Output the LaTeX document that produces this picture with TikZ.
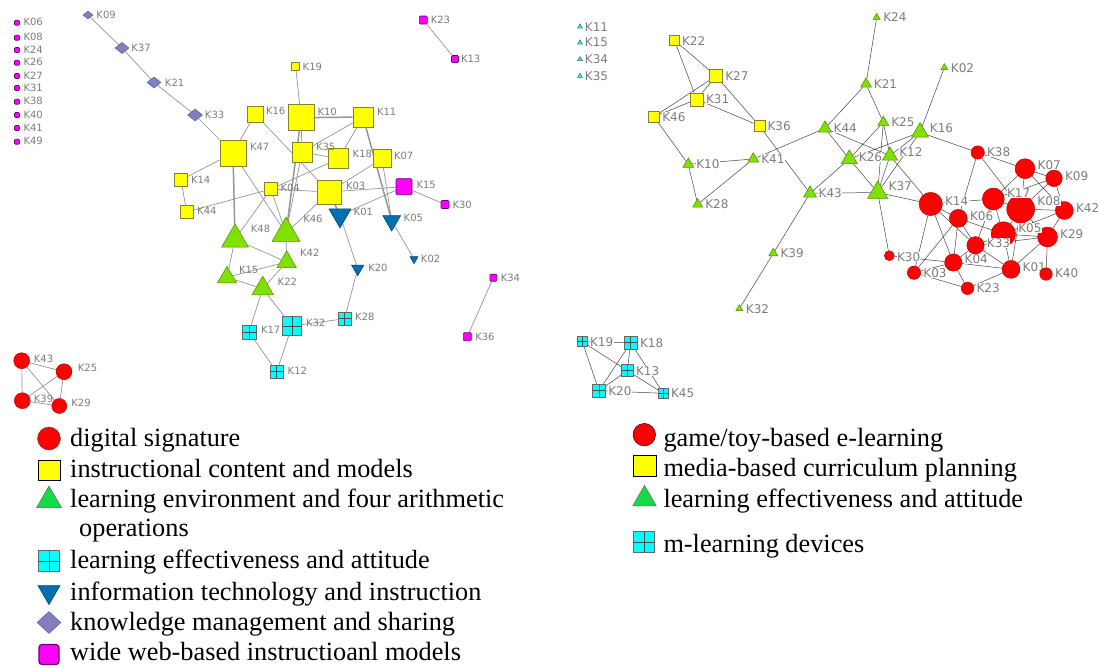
\documentclass[tikz,border=0pt]{standalone}
\usepackage{fontspec}
\setmainfont{Liberation Serif}
\newfontfamily\lblfont{DejaVu Sans}
\usetikzlibrary{shapes.geometric}
\pgfdeclarelayer{bg}
\pgfdeclarelayer{paper}
\pgfsetlayers{paper,bg,main}
\definecolor{nRed}{RGB}{255,0,0}
\definecolor{nYel}{RGB}{255,255,0}
\definecolor{nYelD}{RGB}{130,130,40}
\definecolor{nGrn}{RGB}{128,224,0}
\definecolor{nGrnD}{RGB}{80,140,0}
\definecolor{lGrn}{RGB}{20,220,70}
\definecolor{nCyn}{RGB}{0,255,255}
\definecolor{nBlu}{RGB}{0,112,176}
\definecolor{nPur}{RGB}{128,128,192}
\definecolor{nMag}{RGB}{255,0,255}
\definecolor{nMagD}{RGB}{110,0,110}
\definecolor{ceL}{RGB}{150,150,150}
\definecolor{ceR}{RGB}{70,70,70}
\definecolor{txtG}{RGB}{125,125,125}
\begin{document}
\begin{tikzpicture}[x=1pt,y=-1pt,
  ysq/.style={rectangle, fill=nYel, draw=nYelD, line width=0.6pt, minimum size=#1pt, inner sep=0pt},
  msq/.style={rectangle, rounded corners=1pt, fill=nMag, draw=nMagD, line width=0.6pt, minimum size=#1pt, inner sep=0pt},
  gtri/.style={regular polygon, regular polygon sides=3, fill=nGrn, draw=nGrnD, line width=0.5pt, minimum size={1.155*#1pt}, inner sep=0pt},
  btri/.style={regular polygon, regular polygon sides=3, shape border rotate=180, fill=nBlu, draw=nBlu!60!black, line width=0.5pt, minimum size={1.155*#1pt}, inner sep=0pt},
  dia/.style={diamond, fill=nPur, draw=nPur!75!black, line width=0.5pt, minimum width=#1pt, minimum height={0.8*#1pt}, inner sep=0pt},
  csq/.style={rectangle, fill=nCyn, draw=black!60, line width=0.6pt, minimum size=#1pt, inner sep=0pt,
    path picture={\draw[black!70, line width=0.6pt] (path picture bounding box.north) -- (path picture bounding box.south) (path picture bounding box.west) -- (path picture bounding box.east);}},
  rc/.style={circle, fill=nRed, draw=nRed!70!black, line width=0.4pt, minimum size={2*#1pt}, inner sep=0pt},
  lblL/.style={font=\lblfont\fontsize{10}{12}\selectfont, text=txtG, anchor=west, inner sep=0.5pt},
  lblR/.style={font=\lblfont\fontsize{12}{14}\selectfont, text=txtG, anchor=west, inner sep=0.3pt, fill=white},
  eL/.style={draw=ceL, line width=0.7pt},
  eLb/.style={draw=ceL, line width=1.5pt},
  eR/.style={draw=ceR, line width=0.5pt},
  legtxt/.style={font=\fontsize{26.3}{30}\selectfont, anchor=base west, inner sep=0pt}
]
\useasboundingbox (0,0) rectangle (1098,667);
\begin{pgfonlayer}{paper}
\fill[white] (0,0) rectangle (1098,667);
\end{pgfonlayer}

% ---------------- left network ----------------
\node[msq=5] (L06) at (17,22.7) {};
\node[msq=5] (L08) at (17,37.7) {};
\node[msq=5] (L24) at (17,50) {};
\node[msq=5] (L26) at (17,62.7) {};
\node[msq=5] (L27) at (17,76) {};
\node[msq=5] (L31) at (17,88) {};
\node[msq=5] (L38) at (17,101.7) {};
\node[msq=5] (L40) at (17,115) {};
\node[msq=5] (L41) at (17,128) {};
\node[msq=5] (L49) at (17,141.7) {};

\node[dia=10] (L09) at (88,15) {};
\node[dia=14] (L37) at (122,48) {};
\node[dia=14] (L21) at (154,82.5) {};
\node[dia=15] (L33) at (195,115) {};

\node[ysq=8] (L19) at (295.7,66.7) {};
\node[ysq=16] (L16) at (255,114) {};
\node[ysq=26] (L10) at (301,117.7) {};
\node[ysq=20] (L11) at (363,117) {};
\node[ysq=26] (L47) at (233,153) {};
\node[ysq=20] (L35) at (302,152) {};
\node[ysq=20] (L18) at (338.7,158.7) {};
\node[ysq=18] (L07) at (382,158.7) {};
\node[ysq=13] (L14) at (181,180) {};
\node[ysq=13] (L04) at (271,189) {};
\node[ysq=24] (L03) at (329,192) {};
\node[ysq=13] (L44) at (186.7,212) {};

\node[msq=16] (L15) at (404,186.7) {};
\node[msq=8] (L30) at (445,204.5) {};
\node[msq=8] (L23) at (423.3,20) {};
\node[msq=7] (L13) at (455,59) {};
\node[msq=7] (L34) at (493.3,277.7) {};
\node[msq=8] (L36) at (467.3,336.7) {};

\node[btri=22] (L01) at (340,215.3) {};
\node[btri=18] (L05) at (391.7,220.7) {};
\node[btri=8] (L02) at (414,259) {};
\node[btri=12.3] (L20) at (357.7,268.7) {};

\node[gtri=26.7] (L48) at (235,239.3) {};
\node[gtri=28] (L46) at (286,233.3) {};
\node[gtri=19.3] (L42) at (286.7,262) {};
\node[gtri=19] (L15g) at (227,277.3) {};
\node[gtri=21.7] (L22) at (262.7,288.7) {};

\node[csq=13] (L28) at (344.7,318.7) {};
\node[csq=19] (L32) at (292,326) {};
\node[csq=14] (L17) at (249,332) {};
\node[csq=13] (L12) at (276.7,371.7) {};

\node[rc=8] (L43) at (21.7,360.7) {};
\node[rc=8] (L25) at (64,371.7) {};
\node[rc=8] (L39) at (22.3,400.7) {};
\node[rc=7.5] (L29) at (59.3,406) {};

\begin{pgfonlayer}{bg}
\draw[eL] (L09)--(L37) (L37)--(L21) (L21)--(L33) (L33)--(L47) (L47)--(L16) (L47)--(L14) (L14)--(L44)
  (L47)--(L46) (L16)--(L03) (L19)--(L10) (L10)--(L35) (L35)--(L18) (L35)--(L46) (L11)--(L18) (L11)--(L35)
  (L07)--(L05) (L07)--(L03) (L18)--(L04) (L44)--(L04) (L04)--(L03) (L03)--(L15) (L15)--(L30) (L15)--(L01)
  (L01)--(L20) (L20)--(L28) (L28)--(L32) (L05)--(L02) (L03)--(L46) (L04)--(L48) (L04)--(L46)
  (L48)--(L42) (L48)--(L15g) (L46)--(L42) (L42)--(L15g) (L42)--(L22) (L15g)--(L22) (L22)--(L17) (L22)--(L32)
  (L17)--(L12) (L32)--(L12) (L23)--(L13) (L34)--(L36)
  (L43)--(L25) (L43)--(L39) (L43)--(L29) (L25)--(L39) (L25)--(L29) (L39)--(L29);
\draw[eLb] (L47)--(L48) (L10)--(L11) (L10)--(L46) (L11)--(L05) (L03)--(L01);
\end{pgfonlayer}

\foreach \n in {06,08,24,26,27,31,38,40,41,49}
  \node[lblL] (tL\n) at ([shift={(3,-0.5)}]L\n.east) {K\n};
\foreach \n/\t/\dx/\dy in {09/K09/2.5/0, 37/K37/1.5/0, 21/K21/3/0, 33/K33/1.5/0, 19/K19/2/0, 16/K16/2/3,
  10/K10/2.5/6, 11/K11/3/5, 47/K47/3/6, 35/K35/3/5, 18/K18/3/5, 07/K07/2/3, 14/K14/2.5/0, 04/K04/2/1,
  03/K03/4/6, 44/K44/3/1, 15/K15/3.5/2, 30/K30/2.5/0, 23/K23/2.5/0, 13/K13/1.5/0, 34/K34/3/0, 36/K36/3/0,
  01/K01/5.4/3.7, 05/K05/5/3, 02/K02/3.3/0, 20/K20/5.5/1, 48/K48/6/10, 46/K46/7/14, 42/K42/6/9,
  15g/K15/4.7/7, 22/K22/6.8/7, 28/K28/3/2, 32/K32/3.5/3.3, 17/K17/4/2, 12/K12/3.5/1,
  43/K43/3.3/2, 25/K25/5/4, 39/K39/2.7/2, 29/K29/3.7/3}
  \node[lblL] (tL\n) at ([shift={(\dx,-\dy)}]L\n.east) {\t};

% ---------------- right network ----------------
\node[gtri=5, fill=nCyn, draw=black!60] (R11) at (580,26.7) {};
\node[gtri=5, fill=nCyn, draw=black!60] (R15) at (580,42.7) {};
\node[gtri=5, fill=nCyn, draw=black!60] (R34) at (580,59.3) {};
\node[gtri=5, fill=nCyn, draw=black!60] (R35) at (580,76) {};

\node[ysq=10] (R22) at (674.3,40) {};
\node[ysq=13] (R27) at (716,76) {};
\node[ysq=13] (R31) at (696.7,99.3) {};
\node[ysq=11] (R46) at (654,116.7) {};
\node[ysq=11] (R36) at (759.3,125.7) {};

\node[gtri=11] (R10) at (688.3,164.3) {};
\node[gtri=11] (R41) at (753.3,159) {};
\node[gtri=10] (R28) at (697.7,204.3) {};
\node[gtri=7] (R24) at (876.7,17.3) {};
\node[gtri=7] (R02) at (944.3,67.7) {};
\node[gtri=11] (R21) at (866,84) {};
\node[gtri=11] (R25) at (883.3,122.3) {};
\node[gtri=13] (R44) at (825,128.3) {};
\node[gtri=17] (R16) at (920,132.3) {};
\node[gtri=16] (R26) at (849.3,159) {};
\node[gtri=15] (R12) at (890,155.7) {};
\node[gtri=13] (R43) at (810,193.3) {};
\node[gtri=20] (R37) at (877.7,192.5) {};
\node[gtri=9] (R39) at (773.3,253.3) {};
\node[gtri=7] (R32) at (739.3,308.7) {};

\node[rc=6.7] (R38) at (977.7,152.5) {};
\node[rc=10] (R07) at (1025,168.7) {};
\node[rc=8.3] (R09) at (1054,178.3) {};
\node[rc=11.7] (R14) at (930.7,204) {};
\node[rc=11] (R17) at (993.3,199) {};
\node[rc=14] (R08) at (1020.7,209) {};
\node[rc=9] (R42) at (1064.3,210.5) {};
\node[rc=9] (R06) at (958.3,218.3) {};
\node[rc=12.3] (R05) at (1003.3,234) {};
\node[rc=10] (R29) at (1047.5,237) {};
\node[rc=8.7] (R33) at (975.5,245.3) {};
\node[rc=5] (R30) at (889.3,255.7) {};
\node[rc=8.7] (R04) at (953.3,262.5) {};
\node[rc=9] (R01) at (1011,269.3) {};
\node[rc=6.7] (R03) at (914,272.7) {};
\node[rc=6.3] (R23) at (967.5,288.3) {};

\node[csq=10] (R19) at (582.3,341.7) {};
\node[csq=13] (R18) at (630.7,342.7) {};
\node[csq=12] (R13) at (627.3,370.7) {};
\node[csq=13] (R20) at (599,390.7) {};
\node[csq=10] (R45) at (663.3,393.3) {};

\foreach \n in {11,15,34,35}
  \node[lblR] (tR\n) at ([xshift=2.5pt]R\n.east) {K\n};
\foreach \n/\dy in {22/-1, 27/0, 31/0, 46/0, 36/0, 19/0, 18/0, 13/0, 20/0, 45/0,
  38/0, 07/4, 09/2, 14/3, 17/6, 08/8, 42/2, 06/2, 05/6, 29/3, 33/2, 30/-1, 04/3, 01/2.6, 03/0, 23/0}
  \node[lblR] (tR\n) at ([shift={(2,-\dy)}]R\n.east) {K\n};
\foreach \n/\dy in {10/0, 41/0, 28/0, 24/0, 02/0, 21/0, 25/0, 44/0, 16/4, 26/2, 12/4, 43/0, 37/6, 39/0, 32/0}
  \node[lblR] (tR\n) at ([shift={(3.5,-\dy)}]R\n.east) {K\n};

\node[rc=6.3] (R40) at (1046,274) {};
\node[lblR] (tR40) at ([shift={(2,-1)}]R40.east) {K40};

\begin{pgfonlayer}{bg}
\draw[eR] (R22)--(R27) (R22)--(R31) (R27)--(R31) (R27)--(R46) (R31)--(R46) (R27)--(R36) (R31)--(R36)
  (R46)--(R10) (R10)--(R41) (R10)--(R28) (R41)--(R28) (R36)--(R43) (R41)--(R44) (R44)--(R21) (R21)--(R24)
  (R21)--(R25) (R44)--(R26) (R44)--(R12) (R25)--(R26) (R25)--(R12) (R25)--(R37) (R26)--(R16) (R02)--(R16)
  (R16)--(R12) (R16)--(R37) (R16)--(R38) (R26)--(R37) (R26)--(R43) (R12)--(R37) (R43)--(R37) (R43)--(R39)
  (R39)--(R32) (R12)--(R14) (R37)--(R14) (R37)--(R30) (R38)--(R06) (R38)--(R08) (R38)--(R07)
  (R14)--(R17) (R14)--(R06) (R14)--(R04) (R14)--(R03) (R14)--(R33) (R17)--(R07) (R17)--(R09) (R17)--(R08)
  (R17)--(R05) (R17)--(R33) (R07)--(R09) (R07)--(R08) (R07)--(R42) (R09)--(R08) (R09)--(R42) (R08)--(R42)
  (R08)--(R29) (R08)--(R05) (R08)--(R01) (R42)--(R29) (R42)--(R05) (R05)--(R29) (R05)--(R01) (R05)--(R33)
  (R06)--(R05) (R33)--(R29) (R29)--(R40) (R29)--(R01) (R33)--(R04) (R33)--(R01) (R04)--(R01) (R04)--(R03)
  (R04)--(R23) (R04)--(R30) (R03)--(R23) (R01)--(R23) (R06)--(R04) (R06)--(R33) (R06)--(R03)
  (R19)--(R18) (R19)--(R20) (R19)--(R13) (R18)--(R13) (R18)--(R20) (R18)--(R45) (R13)--(R45) (R13)--(R20)
  (R20)--(R45);
\end{pgfonlayer}

% ---------------- legends ----------------
\node[rc=11.5, draw=black!70] (lgA1) at (49,438.5) {};
\node[ysq=22, minimum height=20pt, draw=black, line width=0.8pt] (lgA2) at (49,470) {};
\node[gtri=25, fill=lGrn, draw=black!60] (lgA3) at (49,500.5) {};
\node[csq=21] (lgA4) at (49,561) {};
\node[btri=22] (lgA5) at (49,592) {};
\node[dia=24, minimum height=22pt] (lgA6) at (49,622.5) {};
\node[msq=20, rounded corners=3pt, line width=1.2pt] (lgA7) at (49,654.5) {};

\node[legtxt] (lgT1) at (70,446.7) {digital signature};
\node[legtxt] (lgT2) at (70,477) {instructional content and models};
\node[legtxt] (lgT3) at (70,507) {learning environment and four arithmetic};
\node[legtxt] (lgT3b) at (79,536.7) {operations};
\node[legtxt] (lgT4) at (70,568) {learning effectiveness and attitude};
\node[legtxt] (lgT5) at (70,600) {information technology and instruction};
\node[legtxt] (lgT6) at (70,630.7) {knowledge management and sharing};
\node[legtxt] (lgT7) at (70,660.7) {wide web-based instructioanl models};

\node[rc=11.3, draw=black] (lgB1) at (644.3,434.7) {};
\node[ysq=22.7, minimum height=21pt, draw=black, line width=0.8pt] (lgB2) at (644.7,465.5) {};
\node[gtri=23.5, fill=lGrn, draw=black!60] (lgB3) at (644.5,499) {};
\node[csq=21] (lgB4) at (644,542) {};

\node[legtxt] (lgU1) at (663.3,446.7) {game/toy-based e-learning};
\node[legtxt] (lgU2) at (663.3,476.7) {media-based curriculum planning};
\node[legtxt] (lgU3) at (663.3,507) {learning effectiveness and attitude};
\node[legtxt] (lgU4) at (663.3,552.7) {m-learning devices};
\end{tikzpicture}
\end{document}
